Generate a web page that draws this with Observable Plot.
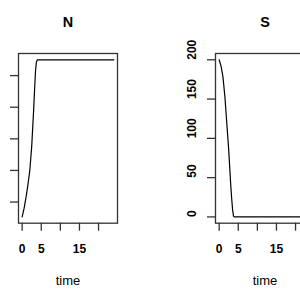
<!DOCTYPE html>
<html>
<head>
<meta charset="utf-8">
<script src="https://cdn.jsdelivr.net/npm/d3@7"></script>
<script src="https://cdn.jsdelivr.net/npm/@observablehq/plot@0.6"></script>
<style>
  html, body { margin: 0; padding: 0; background: white; }
  #wrap { position: relative; width: 300px; height: 300px; overflow: hidden; background: white; }
  #wrap > div { position: absolute; top: 0; width: 200px; height: 300px; }
  #wrap svg { max-width: none !important; width: 200px; height: 300px; overflow: visible; }
</style>
</head>
<body>
<div id="wrap"><div id="p1"></div><div id="p2"></div></div>
<script>
// Data
const time = [0, 0.5, 1, 1.5, 2, 2.5, 3, 3.25, 3.5, 3.75, 4, 24];
const N    = [26.5, 40, 57, 77, 100, 138, 195, 228, 258, 272, 275, 275];
const S    = [200, 192, 178, 153, 119, 85, 43, 25, 10, 1, 0, 0];

const xTicks = [0, 5, 10, 15, 20];
const xLabels = ["0", "5", "", "15", ""];
const nTicks = [50, 100, 150, 200, 250];   // labels cropped off in the reference
const sTicks = [0, 50, 100, 150, 200];
const sLabels = ["0", "50", "100", "150", "200"];

const FONT = "'Liberation Sans', Arial, Helvetica, sans-serif";

function padded(arr) {
  const [a, b] = d3.extent(arr);
  const p = (b - a) * 0.04;
  return [a - p, b + p];
}

function panel(title, values, yTicks, yLabels) {
  const data = time.map((t, i) => ({t, v: values[i]}));
  const marks = [
    Plot.axisX({ticks: xTicks, tickSize: 8, tickFormat: () => "", label: null, stroke: "#333", strokeWidth: 1.3}),
    Plot.axisY({ticks: yTicks, tickSize: 8, tickFormat: () => "", label: null, stroke: "#333", strokeWidth: 1.3}),
    Plot.text(xTicks, {x: d => d, text: (d, i) => xLabels[i], frameAnchor: "bottom", lineAnchor: "middle", dy: 25.8, fontWeight: "bold", fontSize: 12, fill: "black"}),
    Plot.frame({stroke: "#333", strokeWidth: 1.3}),
    Plot.line(data, {x: "t", y: "v", stroke: "black", strokeWidth: 1.2}),
    Plot.text([title], {frameAnchor: "top", lineAnchor: "middle", dy: -31, fontWeight: "bold", fontSize: 14.4, fill: "black"}),
    Plot.text(["time"], {frameAnchor: "bottom", lineAnchor: "middle", dy: 58, fontSize: 13, fill: "black"})
  ];
  if (yLabels) {
    marks.push(Plot.text(yTicks, {y: d => d, text: (d, i) => yLabels[i], frameAnchor: "left", lineAnchor: "middle", dx: -23.3, rotate: -90, fontWeight: "bold", fontSize: 12, fill: "black"}));
  }
  return Plot.plot({
    width: 200,
    height: 300,
    marginLeft: 65,
    marginRight: 36,
    marginTop: 53,
    marginBottom: 77.3,
    style: {fontFamily: FONT, background: "transparent", overflow: "visible", maxWidth: "none"},
    x: {domain: padded(time)},
    y: {domain: padded(values)},
    marks
  });
}

const p1 = document.getElementById("p1");
const p2 = document.getElementById("p2");
p1.style.left = "-47px";
p2.style.left = "150px";
p1.appendChild(panel("N", N, nTicks, null));
p2.appendChild(panel("S", S, sTicks, sLabels));
</script>
</body>
</html>
